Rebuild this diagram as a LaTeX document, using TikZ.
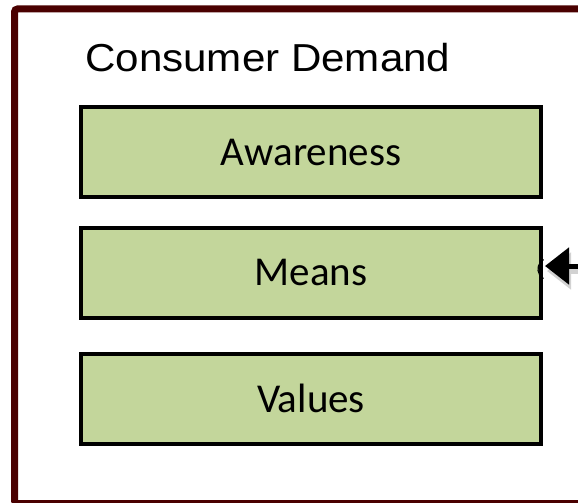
\documentclass[tikz,border=0pt]{standalone}
\usepackage{fontspec}
\setmainfont{Liberation Sans}
\newfontfamily\boxfont{Carlito}
\usetikzlibrary{arrows.meta}
\definecolor{maroon}{HTML}{4A0000}
\definecolor{boxgreen}{HTML}{C3D69B}
\tikzset{
  labelbox/.style={draw=black, line width=4pt, fill=boxgreen, minimum width=460pt, minimum height=90pt, inner sep=0pt, font=\boxfont\fontsize{41}{44}\selectfont},
  frame/.style={draw=maroon, line width=7pt, rounded corners=3pt},
  bigarrow/.style={-{Triangle[length=24pt,width=36pt]}, line width=5pt}
}
\begin{document}
\begin{tikzpicture}[x=1pt,y=-1pt]
\useasboundingbox (0,0) rectangle (578,503);
\fill[white] (0,0) rectangle (578,503);
\draw[frame] (14.5,9) rectangle (620,503.5);
\node[anchor=base west, inner sep=0pt, font=\fontsize{39}{44}\selectfont, xscale=1.08] (title) at (85,71) {Consumer Demand};
\node[labelbox] (aw) at (311,152) {Awareness};
\node[labelbox] (me) at (311,272.5) {Means};
\node[labelbox] (va) at (311,398.5) {Values};
\draw[line width=1.2pt] ([shift={(0.5,-13)}]me.east) arc[start angle=120, end angle=240, radius=11pt];
\coordinate (src) at (600,266);
\coordinate (dst) at (545,266);
\draw[bigarrow, draw=gray!35, fill=gray!35] ([shift={(2,5)}]src) -- ([shift={(2,5)}]dst);
\draw[bigarrow, draw=black, fill=black] (src) -- (dst);
\end{tikzpicture}
\end{document}
